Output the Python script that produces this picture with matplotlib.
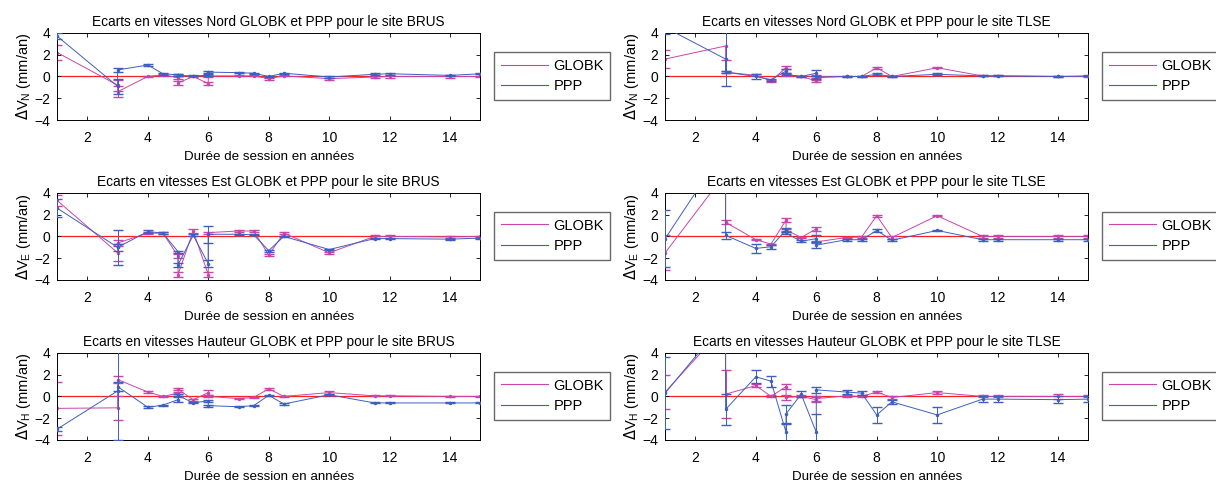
import matplotlib
matplotlib.use("Agg")
import matplotlib.pyplot as plt
from matplotlib.lines import Line2D

plt.rcParams['font.family'] = ['Liberation Sans', 'DejaVu Sans']

GLOBK_COLOR = "#c846a8"
PPP_COLOR = "#3d5fc0"
ZERO_COLOR = "#ff2020"

# session lengths (years); repeated values = several sessions of same length
years = [1, 3, 3, 4, 4.5, 5, 5, 5.5, 6, 6, 7, 7.5, 8, 8.5, 10, 11.5, 12, 14, 15]

# BRUS
brus_n_globk = [2.2, -0.8, -1.4, 0.0, 0.15, -0.1, -0.6, 0.0, -0.65, 0.05, 0.05, 0.05, -0.2, 0.05, -0.2, -0.05, 0.0, 0.0, 0.0]
brus_n_globk_err = [0.7, 0.5, 0.5, 0.05, 0.1, 0.15, 0.2, 0.05, 0.15, 0.1, 0.05, 0.05, 0.1, 0.05, 0.1, 0.05, 0.1, 0.1, 0.05]
brus_n_ppp = [3.7, -0.9, 0.6, 1.05, 0.25, 0.15, 0.1, 0.05, 0.1, 0.4, 0.35, 0.3, 0.0, 0.3, -0.05, 0.2, 0.25, 0.1, 0.25]
brus_n_ppp_err = [0.3, 0.7, 0.15, 0.08, 0.08, 0.1, 0.1, 0.05, 0.1, 0.1, 0.05, 0.05, 0.05, 0.05, 0.08, 0.08, 0.08, 0.05, 0.05]

brus_e_globk = [3.3, -1.5, -0.6, 0.3, 0.3, -1.8, -3.5, 0.5, -3.5, 0.35, 0.5, 0.5, -1.7, 0.3, -1.5, 0.0, 0.0, -0.05, 0.0]
brus_e_globk_err = [0.5, 0.8, 0.3, 0.1, 0.1, 0.2, 0.2, 0.15, 0.2, 0.1, 0.1, 0.1, 0.1, 0.1, 0.1, 0.1, 0.1, 0.1, 0.05]
brus_e_ppp = [2.6, -1.0, -1.0, 0.45, 0.3, -1.4, -2.6, 0.1, -2.5, 0.2, 0.2, 0.15, -1.3, 0.0, -1.2, -0.2, -0.2, -0.25, -0.15]
brus_e_ppp_err = [0.8, 1.6, 0.3, 0.1, 0.1, 0.1, 0.2, 0.1, 0.3, 0.8, 0.05, 0.05, 0.1, 0.05, 0.05, 0.05, 0.05, 0.05, 0.05]

brus_h_globk = [-1.1, -1.05, 1.55, 0.4, 0.0, 0.3, 0.65, -0.3, 0.35, 0.0, -0.2, -0.1, 0.7, 0.0, 0.35, 0.05, 0.05, 0.0, 0.0]
brus_h_globk_err = [2.4, 1.1, 0.3, 0.05, 0.05, 0.1, 0.1, 0.1, 0.2, 0.1, 0.05, 0.05, 0.1, 0.05, 0.1, 0.05, 0.05, 0.05, 0.05]
brus_h_ppp = [-3.0, 0.5, 0.9, -1.0, -0.8, -0.3, 0.1, -0.6, -0.4, -0.85, -0.95, -0.85, 0.1, -0.7, 0.15, -0.6, -0.6, -0.6, -0.6]
brus_h_ppp_err = [0.2, 4.5, 0.4, 0.1, 0.05, 0.2, 0.1, 0.05, 0.1, 0.1, 0.05, 0.05, 0.05, 0.05, 0.05, 0.05, 0.05, 0.05, 0.05]

# TLSE
tlse_n_globk = [1.6, 2.8, 0.4, 0.1, -0.4, 0.8, 0.15, 0.0, -0.4, 0.0, 0.0, 0.0, 0.8, 0.0, 0.8, 0.05, 0.05, 0.0, 0.0]
tlse_n_globk_err = [0.8, 1.3, 0.1, 0.1, 0.1, 0.15, 0.1, 0.05, 0.1, 0.1, 0.05, 0.05, 0.1, 0.05, 0.05, 0.05, 0.05, 0.05, 0.05]
tlse_n_ppp = [4.5, 1.6, 0.4, 0.0, -0.3, 0.5, 0.2, 0.0, 0.3, -0.1, 0.0, 0.0, 0.2, 0.0, 0.2, 0.05, 0.05, 0.0, 0.05]
tlse_n_ppp_err = [0.6, 2.5, 0.1, 0.2, 0.1, 0.2, 0.1, 0.05, 0.3, 0.1, 0.05, 0.05, 0.1, 0.05, 0.1, 0.05, 0.05, 0.05, 0.05]

tlse_e_globk = [-1.5, 5.8, 1.3, -0.3, -0.7, 1.5, 0.6, -0.1, 0.7, -0.5, -0.1, -0.05, 1.9, -0.1, 1.9, 0.0, 0.0, 0.0, 0.0]
tlse_e_globk_err = [1.6, 0.2, 0.2, 0.05, 0.05, 0.2, 0.1, 0.05, 0.2, 0.1, 0.05, 0.05, 0.1, 0.1, 0.05, 0.1, 0.1, 0.1, 0.1]
tlse_e_ppp = [-0.2, 8.2, 0.1, -1.1, -0.95, 0.6, 0.3, -0.45, -0.2, -0.8, -0.3, -0.3, 0.55, -0.35, 0.55, -0.3, -0.3, -0.3, -0.3]
tlse_e_ppp_err = [2.6, 0.2, 0.3, 0.4, 0.2, 0.15, 0.1, 0.1, 0.3, 0.3, 0.1, 0.1, 0.1, 0.1, 0.05, 0.1, 0.1, 0.1, 0.1]

tlse_h_globk = [0.4, 6.5, 0.2, 1.0, 0.0, 0.9, -0.1, 0.0, -0.3, -0.2, 0.05, 0.0, 0.4, -0.1, 0.35, 0.0, 0.0, 0.0, 0.0]
tlse_h_globk_err = [1.6, 0.2, 2.2, 0.15, 0.1, 0.2, 0.2, 0.1, 0.2, 0.2, 0.1, 0.1, 0.1, 0.1, 0.1, 0.1, 0.1, 0.2, 0.1]
tlse_h_ppp = [0.3, 7.0, -1.2, 1.8, 1.4, -3.3, -1.6, 0.2, -3.3, 0.6, 0.4, 0.3, -1.7, -0.5, -1.7, -0.25, -0.25, -0.3, -0.25]
tlse_h_ppp_err = [3.3, 0.2, 1.4, 0.6, 0.5, 0.8, 0.8, 0.3, 1.7, 0.3, 0.2, 0.2, 0.7, 0.2, 0.7, 0.3, 0.3, 0.3, 0.3]

panels = [
    ("Nord", "BRUS", "N", brus_n_globk, brus_n_globk_err, brus_n_ppp, brus_n_ppp_err),
    ("Nord", "TLSE", "N", tlse_n_globk, tlse_n_globk_err, tlse_n_ppp, tlse_n_ppp_err),
    ("Est", "BRUS", "E", brus_e_globk, brus_e_globk_err, brus_e_ppp, brus_e_ppp_err),
    ("Est", "TLSE", "E", tlse_e_globk, tlse_e_globk_err, tlse_e_ppp, tlse_e_ppp_err),
    ("Hauteur", "BRUS", "H", brus_h_globk, brus_h_globk_err, brus_h_ppp, brus_h_ppp_err),
    ("Hauteur", "TLSE", "H", tlse_h_globk, tlse_h_globk_err, tlse_h_ppp, tlse_h_ppp_err),
]

fig = plt.figure(figsize=(12.16, 4.84), dpi=100)

lefts = [0.047, 0.547]
bottoms = [0.752, 0.4215, 0.091]
W, H = 0.348, 0.18

for i, (comp, site, sub, g, ge, p, pe) in enumerate(panels):
    ax = fig.add_axes([lefts[i % 2], bottoms[i // 2], W, H])
    ax.axhline(0, color=ZERO_COLOR, lw=0.9, zorder=1)
    ax.errorbar(years, g, yerr=ge, color=GLOBK_COLOR, lw=0.7, elinewidth=0.7,
                capsize=3.5, marker='.', ms=3, zorder=2)
    ax.errorbar(years, p, yerr=pe, color=PPP_COLOR, lw=0.7, elinewidth=0.7,
                capsize=3.5, marker='.', ms=3, zorder=3)
    ax.set_xlim(1, 15)
    ax.set_ylim(-4, 4)
    ax.set_xticks([2, 4, 6, 8, 10, 12, 14])
    ax.set_yticks([-4, -2, 0, 2, 4])
    ax.tick_params(direction='in', top=True, right=True, labelsize=10, length=3, width=0.6)
    ax.tick_params(axis='x', pad=8)
    ax.tick_params(axis='y', pad=5)
    for s in ax.spines.values():
        s.set_linewidth(0.7)
    ax.set_title(f"Ecarts en vitesses {comp} GLOBK et PPP pour le site {site}",
                 fontsize=9.8, pad=5)
    ax.set_xlabel("Durée de session en années", fontsize=9.6, labelpad=4)
    ax.set_ylabel(r"$\Delta$V$_\mathregular{%s}$ (mm/an)" % sub, fontsize=10.5, labelpad=1)
    handles = [Line2D([], [], color=GLOBK_COLOR, lw=0.8),
               Line2D([], [], color=PPP_COLOR, lw=0.8)]
    ax.legend(handles, ["GLOBK", "PPP"], loc='upper left', bbox_to_anchor=(1.033, 0.78),
              fontsize=10.5, frameon=True, fancybox=False, edgecolor='#444444',
              handlelength=3.2, handletextpad=0.4, borderpad=0.45, labelspacing=0.45,
              borderaxespad=0)

fig.savefig("out.png", dpi=100)
